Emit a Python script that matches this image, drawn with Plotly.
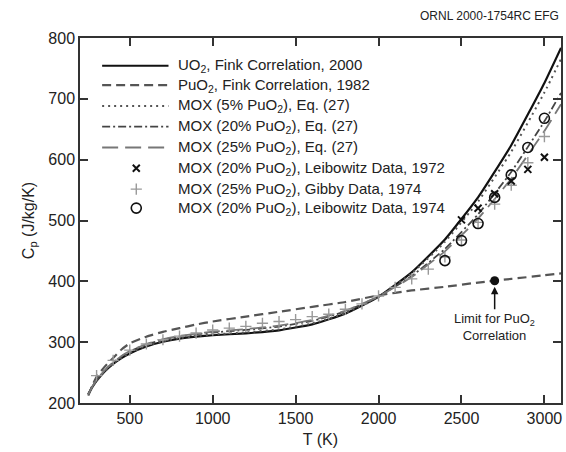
import plotly.graph_objects as go

# ---- data ----
T_corr = [250, 275, 300, 350, 400, 450, 500, 600, 700, 800, 900, 1000, 1200, 1400,
          1600, 1800, 2000, 2200, 2400, 2600, 2800, 3000, 3100]
cp_uo2 = [214.6, 226.6, 236.5, 252.3, 264.3, 273.8, 281.5, 293.0, 300.7, 305.8, 309.1,
          311.4, 314.6, 319.5, 329.2, 346.8, 374.5, 414.6, 468.7, 538.1, 623.8, 726.2, 783.8]
cp_puo2 = [212, 229, 243, 260, 274, 288, 298, 309, 317, 323, 329,
           334, 342, 350, 358, 366, 377, 385, 391, 398, 404, 410, 413]
cp_mox5 = [214.5, 226.7, 236.8, 252.7, 264.8, 274.5, 282.3, 293.8, 301.5, 306.7, 310.1,
           312.5, 316.0, 321.0, 330.6, 347.8, 374.6, 413.1, 464.8, 531.1, 612.8, 710.4, 765.3]
cp_mox20 = [214.1, 227.1, 237.8, 253.8, 266.2, 276.6, 284.8, 296.2, 304.0, 309.2, 313.1,
            315.9, 320.1, 325.6, 335.0, 350.6, 375.0, 408.7, 453.2, 510.1, 579.8, 663.0, 709.6]
cp_mox25 = [214.0, 227.2, 238.1, 254.2, 266.7, 277.4, 285.6, 297.0, 304.8, 310.1, 314.1,
            317.1, 321.5, 327.1, 336.4, 351.6, 375.1, 407.2, 449.3, 503.1, 568.9, 647.2, 691.1]

T_leib72 = [2500, 2600, 2700, 2800, 2900, 3000]
cp_leib72 = [501, 520, 544, 565, 584, 604]

T_gibby = [300, 400, 500, 600, 700, 800, 900, 1000, 1100, 1200, 1300, 1400, 1500,
           1600, 1700, 1800, 1900, 2000, 2100, 2200, 2300, 2400, 2500, 2600, 2700,
           2800, 2900, 3000]
cp_gibby = [245, 270, 287, 297, 304, 310, 315, 320, 323, 326, 331, 334, 337,
            342, 346, 354, 363, 376, 390, 404, 420, 440, 468, 497, 527,
            558, 595, 638]

T_leib74 = [2400, 2500, 2600, 2700, 2800, 2900, 3000]
cp_leib74 = [434, 467, 495, 538, 575, 620, 668]

T_limit = [2700]
cp_limit = [401]

legend_labels = [
    "UO<sub>2</sub>, Fink Correlation, 2000",
    "PuO<sub>2</sub>, Fink Correlation, 1982",
    "MOX (5% PuO<sub>2</sub>), Eq. (27)",
    "MOX (20% PuO<sub>2</sub>), Eq. (27)",
    "MOX (25% PuO<sub>2</sub>), Eq. (27)",
    "MOX (20% PuO<sub>2</sub>), Leibowitz Data, 1972",
    "MOX (25% PuO<sub>2</sub>), Gibby Data, 1974",
    "MOX (20% PuO<sub>2</sub>), Leibowitz Data, 1974",
]

FONT = "Liberation Sans, Arial, Helvetica, sans-serif"

line_styles = [
    dict(color="#111111", width=2.2, dash="solid"),
    dict(color="#555555", width=2.2, dash="9px,5px"),
    dict(color="#555555", width=2.0, dash="2px,4px"),
    dict(color="#444444", width=1.8, dash="8px,3px,2px,3px"),
    dict(color="#777777", width=1.8, dash="16px,7px"),
]
marker_styles = [
    dict(symbol="x-thin", size=7, color="#111111", line=dict(width=2, color="#111111")),
    dict(symbol="cross-thin", size=8, color="#999999", line=dict(width=1.4, color="#999999")),
    dict(symbol="circle-open", size=10, color="#111111", line=dict(width=1.6, color="#111111")),
]

fig = go.Figure()

curves = [cp_uo2, cp_puo2, cp_mox5, cp_mox20, cp_mox25]
for ys, ls in zip(curves, line_styles):
    fig.add_trace(go.Scatter(x=T_corr, y=ys, mode="lines",
                             line=dict(shape="spline", smoothing=0.4, **ls),
                             showlegend=False, hoverinfo="skip"))

fig.add_trace(go.Scatter(x=T_gibby, y=cp_gibby, mode="markers", marker=marker_styles[1], showlegend=False))
fig.add_trace(go.Scatter(x=T_leib72, y=cp_leib72, mode="markers", marker=marker_styles[0], showlegend=False))
fig.add_trace(go.Scatter(x=T_leib74, y=cp_leib74, mode="markers", marker=marker_styles[2], showlegend=False))
fig.add_trace(go.Scatter(x=T_limit, y=cp_limit, mode="markers",
                         marker=dict(symbol="circle", size=9, color="#111111"), showlegend=False))

# ---- custom legend (overlay axes spanning the plot area, 0..1) ----
row_y = [0.924, 0.871, 0.814, 0.757, 0.700, 0.643, 0.586, 0.534]
x0, x1, xm, xt = 0.046, 0.184, 0.117, 0.199
for i, ls in enumerate(line_styles):
    fig.add_trace(go.Scatter(x=[x0, x1], y=[row_y[i], row_y[i]], mode="lines", line=ls,
                             xaxis="x2", yaxis="y2", showlegend=False, hoverinfo="skip"))
for j, ms in enumerate(marker_styles):
    fig.add_trace(go.Scatter(x=[xm], y=[row_y[5 + j]], mode="markers", marker=ms,
                             xaxis="x2", yaxis="y2", showlegend=False, hoverinfo="skip"))
for i, lab in enumerate(legend_labels):
    fig.add_annotation(x=xt, y=row_y[i], xref="x2", yref="y2", text=lab, showarrow=False,
                       xanchor="left", yanchor="middle",
                       font=dict(size=15, color="#222222", family=FONT))

# ---- annotations ----
fig.add_annotation(x=T_limit[0], y=cp_limit[0], xref="x", yref="y",
                   text="Limit for PuO<sub>2</sub><br>Correlation", showarrow=True,
                   arrowhead=2, arrowsize=1, arrowwidth=1.5, arrowcolor="#111111",
                   ax=0, ay=46, standoff=6, font=dict(size=13, color="#222222", family=FONT))
fig.add_annotation(x=1.0, y=1.0, xref="paper", yref="paper", yshift=22,
                   text="ORNL 2000-1754RC EFG", showarrow=False, xanchor="right", yanchor="middle",
                   font=dict(size=12, color="#222222", family=FONT))

axis_common = dict(showline=True, linecolor="#333333", linewidth=1.5, mirror="ticks",
                   ticks="inside", ticklen=8, tickwidth=1.5, tickcolor="#333333",
                   showgrid=False, zeroline=False,
                   tickfont=dict(size=16, color="#222222", family=FONT))

fig.update_layout(
    width=566, height=452,
    margin=dict(l=80, r=3, t=38, b=49),
    paper_bgcolor="white", plot_bgcolor="white",
    font=dict(family=FONT, color="#222222"),
    xaxis=dict(range=[200, 3100], tickvals=[500, 1000, 1500, 2000, 2500, 3000],
               title=dict(text="T (K)", font=dict(size=16), standoff=8), **axis_common),
    yaxis=dict(range=[200, 800], dtick=100,
               title=dict(text="C<sub>p</sub> (J/kg/K)", font=dict(size=16), standoff=10), **axis_common),
    xaxis2=dict(overlaying="x", range=[0, 1], visible=False, fixedrange=True),
    yaxis2=dict(overlaying="y", range=[0, 1], visible=False, fixedrange=True),
    showlegend=False,
)

# remove the default 8px page margin so the 566x452 figure fills the window exactly
fig.write_html("out.html",
               config={"displayModeBar": False},
               post_script="document.body.style.margin='0px';document.body.style.overflow='hidden';")
